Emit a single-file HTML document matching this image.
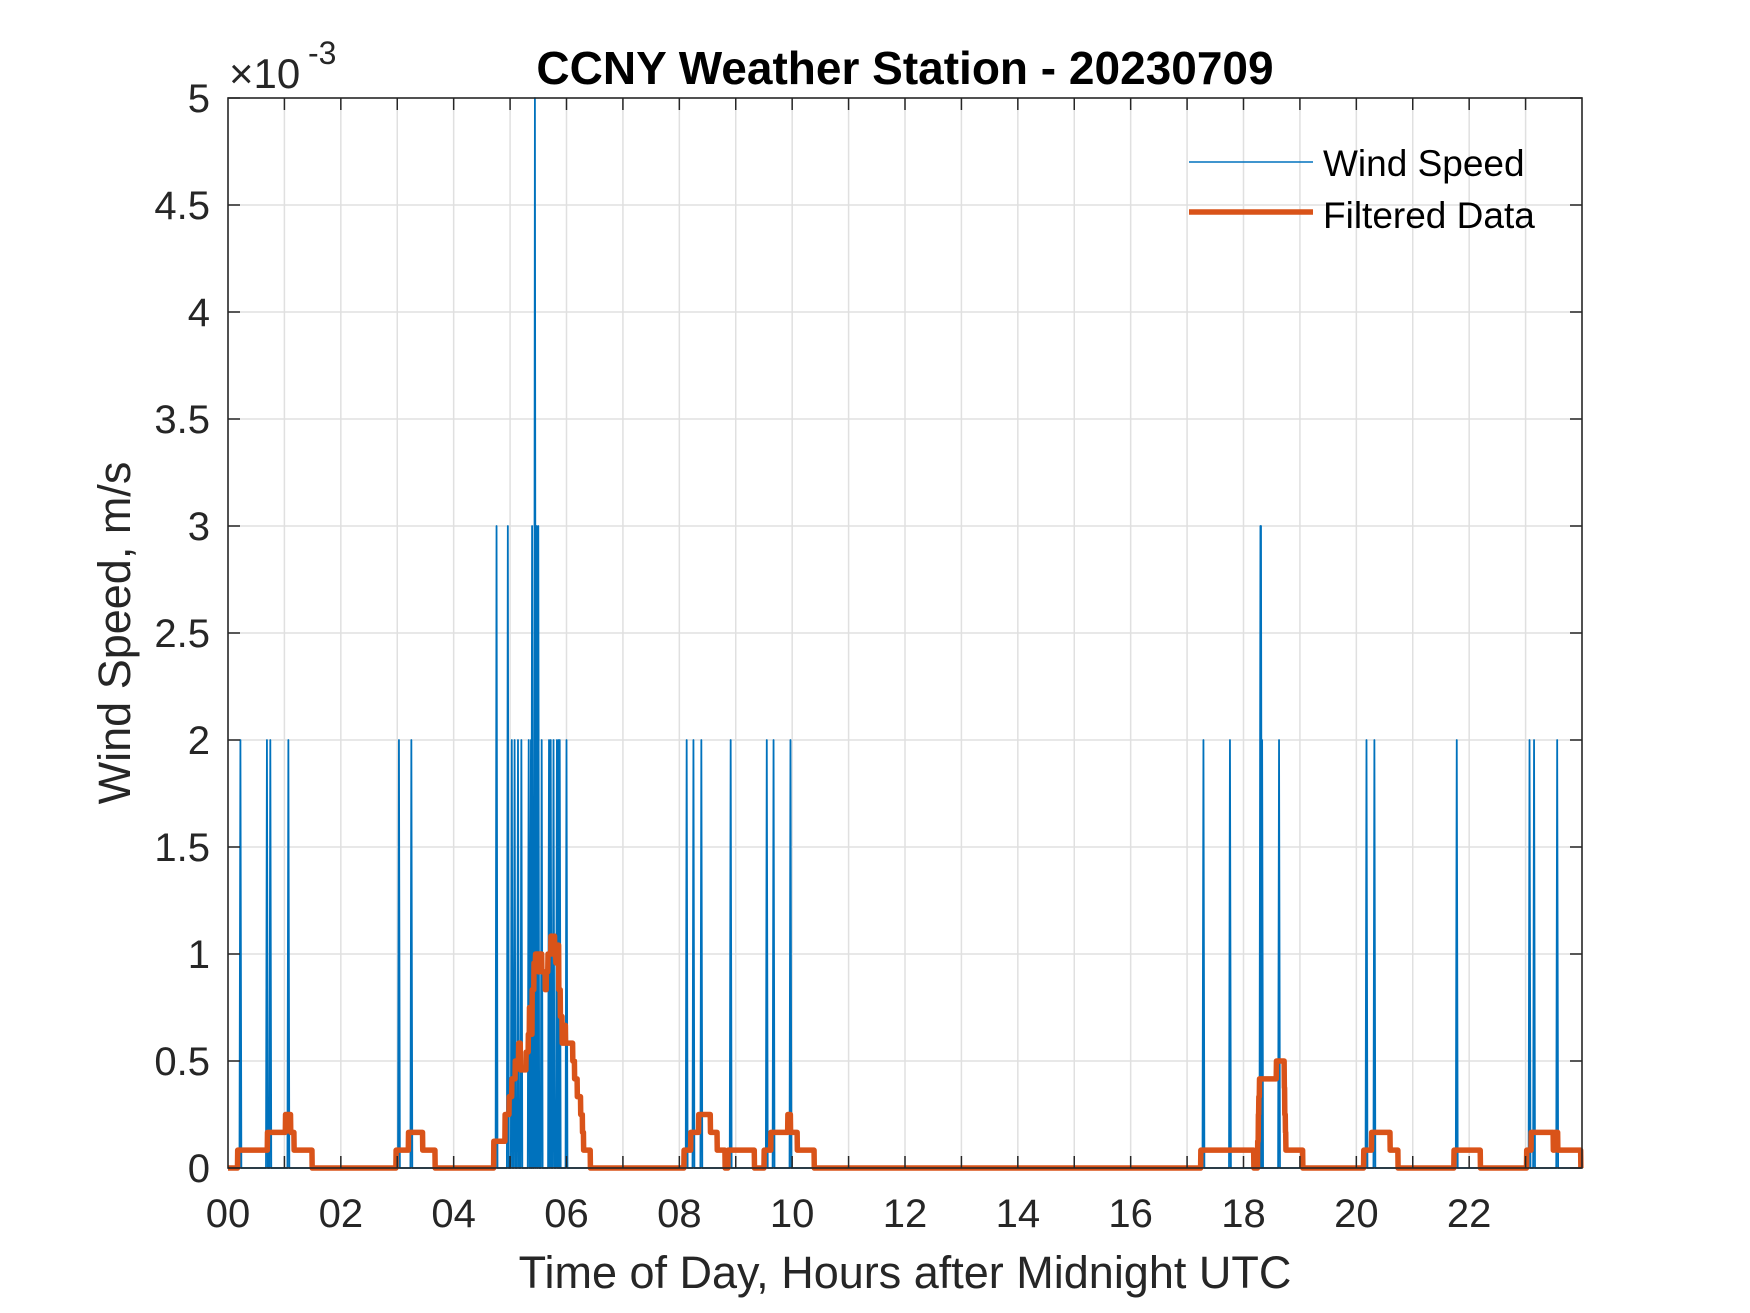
<!DOCTYPE html>
<html><head><meta charset="utf-8"><style>
html,body{margin:0;padding:0;background:#fff;}
svg{display:block;font-family:"Liberation Sans",Arial,sans-serif;}
</style></head><body>
<svg id="chart" width="1750" height="1313" viewBox="0 0 1750 1313" xmlns="http://www.w3.org/2000/svg">
<rect width="1750" height="1313" fill="#fff"/>
<g id="grid"></g>
<g id="series"></g>
<g id="axes"></g>
<text x="905" y="84" text-anchor="middle" font-size="46" font-weight="bold" fill="#000">CCNY Weather Station - 20230709</text>
<text x="905" y="1288" text-anchor="middle" font-size="45" fill="#262626">Time of Day, Hours after Midnight UTC</text>
<text transform="translate(130,633) rotate(-90)" text-anchor="middle" font-size="45" fill="#262626">Wind Speed, m/s</text>
<g fill="#262626">
<text x="229" y="88" font-size="42">×10</text>
<text x="308" y="64" font-size="32">-3</text>
</g>
<g>
<g>
<line x1="1189" y1="162" x2="1313" y2="162" stroke="#0072BD" stroke-width="1.6"/>
<text x="1323" y="176" font-size="37" fill="#000">Wind Speed</text>
</g>
<g>
<line x1="1189" y1="212" x2="1313" y2="212" stroke="#D95319" stroke-width="5.5"/>
<text x="1323" y="228" font-size="37" fill="#000">Filtered Data</text>
</g>
</g>
</svg>
<script>
// Spike times (hours) and wind speed values (x1e-3 m/s)
const spikeHours = [0.22,0.69,0.75,1.07,3.03,3.25,4.76,4.96,5.03,5.08,5.14,5.20,5.33,5.37,5.39,5.44,5.47,5.50,5.56,5.69,5.72,5.77,5.83,5.86,5.88,6.00,8.13,8.25,8.39,8.91,9.55,9.67,9.97,17.29,17.76,18.30,18.31,18.32,18.33,18.63,20.18,20.32,21.78,23.07,23.15,23.56];
const spikeValues = [2,2,2,2,2,2,3,3,2,2,2,2,2,2,3,5,3,3,2,2,2,2,2,2,2,2,2,2,2,2,2,2,2,2,2,3,3,2,2,2,2,2,2,2,2,2];
const xTicks = [0,2,4,6,8,10,12,14,16,18,20,22];
const xTickLabels = ["00","02","04","06","08","10","12","14","16","18","20","22"];
const yTicks = [0,0.5,1,1.5,2,2.5,3,3.5,4,4.5,5];
const yTickLabels = ["0","0.5","1","1.5","2","2.5","3","3.5","4","4.5","5"];

const L=228,R=1582,T=98,B=1168,XMAX=24,YMAX=5;
const sx=h=>L+h/XMAX*(R-L);
const sy=v=>B-v/YMAX*(B-T);
const NS="http://www.w3.org/2000/svg";
function mk(tag,attrs,parent){const e=document.createElementNS(NS,tag);for(const k in attrs)e.setAttribute(k,attrs[k]);parent.appendChild(e);return e;}
const grid=document.getElementById('grid'),axes=document.getElementById('axes'),series=document.getElementById('series');

for(let h=1;h<XMAX;h++){
  const g=mk('line',{x1:sx(h),x2:sx(h),y1:T,y2:B,stroke:'#e0e0e0','stroke-width':1.5},grid);
  
  
  for(const [y1,y2] of [[B,B-12],[T,T+12]]){
    const t=mk('line',{x1:sx(h),x2:sx(h),y1:y1,y2:y2,stroke:'#262626','stroke-width':1.5},axes);
    
    
  }
}
yTicks.forEach((v,i)=>{
  if(v>0&&v<YMAX){
    const g=mk('line',{x1:L,x2:R,y1:sy(v),y2:sy(v),stroke:'#e0e0e0','stroke-width':1.5},grid);
    
    
  }
  for(const [x1,x2] of [[L,L+12],[R,R-12]]){
    const t=mk('line',{x1:x1,x2:x2,y1:sy(v),y2:sy(v),stroke:'#262626','stroke-width':1.5},axes);
    
    
  }
  const lb=mk('text',{x:L-18,y:sy(v)+14,'text-anchor':'end','font-size':40,fill:'#262626'},axes);
  lb.textContent=yTickLabels[i];
  
  
});
xTicks.forEach((h,i)=>{
  const lb=mk('text',{x:sx(h),y:1227,'text-anchor':'middle','font-size':40,fill:'#262626'},axes);
  lb.textContent=xTickLabels[i];
  
  
});
const box=mk('rect',{x:L,y:T,width:R-L,height:B-T,fill:'none',stroke:'#262626','stroke-width':1.6},axes);



// wind speed spikes
const dt=1/60;
let pts=[[0,0]];
spikeHours.forEach((s,i)=>{pts.push([s-dt,0],[s,spikeValues[i]],[s+dt,0]);});
pts.push([XMAX*0.9992,0]);
const wl=mk('polyline',{points:pts.map(p=>sx(p[0]).toFixed(2)+','+sy(p[1]).toFixed(2)).join(' '),fill:'none',stroke:'#0072BD','stroke-width':1.8,'stroke-linejoin':'round'},series);



// filtered: moving average (24-sample window) of the spikes
const fpts=[];
for(let t=0;t<=XMAX*0.9992;t+=0.004){
  let s=0;
  spikeHours.forEach((h,i)=>{if(h>=t-0.42&&h<=t+0.05)s+=spikeValues[i];});
  fpts.push([t,s/24]);
}
const fl=mk('polyline',{points:fpts.map(p=>sx(p[0]).toFixed(2)+','+sy(p[1]).toFixed(2)).join(' '),fill:'none',stroke:'#D95319','stroke-width':5.5,'stroke-linejoin':'round'},series);


</script>
</body></html>
